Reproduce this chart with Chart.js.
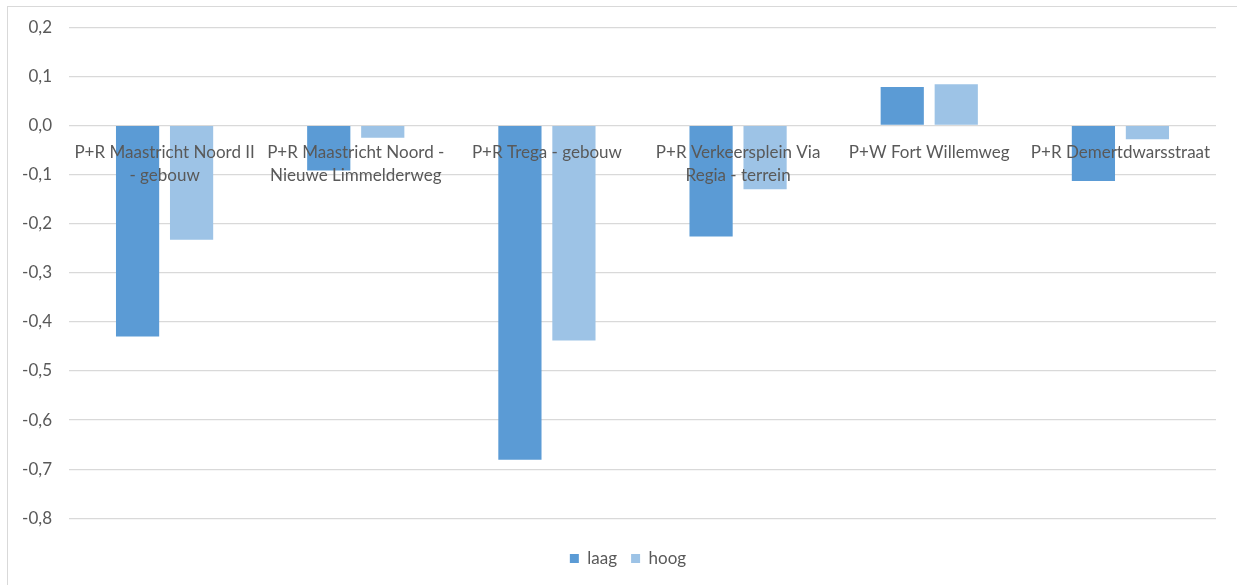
<!DOCTYPE html>
<html>
<head>
<meta charset="utf-8">
<script src="https://cdn.jsdelivr.net/npm/chart.js@4/dist/chart.umd.min.js"></script>
<style>
  html, body { margin: 0; padding: 0; background: #fff; overflow: hidden; width: 1237px; height: 585px; }
  #frame {
    position: absolute; left: 7px; top: 6px; width: 1400px; height: 700px;
    border: 1px solid #d9d9d9; box-sizing: border-box;
  }
  #chart { position: absolute; left: 0; top: 0; }
</style>
</head>
<body>
<div id="frame"></div>
<canvas id="chart" width="1237" height="585"></canvas>
<script>
const categories = [
  ['P+R Maastricht Noord II', '- gebouw'],
  ['P+R Maastricht Noord -', 'Nieuwe Limmelderweg'],
  'P+R Trega - gebouw',
  ['P+R Verkeersplein Via', 'Regia - terrein'],
  'P+W Fort Willemweg',
  'P+R Demertdwarsstraat',
];
const laag = [-0.43, -0.092, -0.681, -0.226, 0.078, -0.113];
const hoog = [-0.233, -0.025, -0.438, -0.13, 0.084, -0.028];

const TEXT = '#595959';
const GRID = '#d9d9d9';
const FONT = 'Lato, "Liberation Sans", sans-serif';

// format ticks the Dutch way: 0,1 / -0,2
const fmt = (v) => {
  const r = Math.round(v * 10) / 10;
  return (r === 0 ? 0 : r).toFixed(1).replace('.', ',');
};

// legend in the original sits a little right of the canvas centre
const legendShift = {
  id: 'legendShift',
  afterLayout(chart) {
    chart.legend.left += 10;
    chart.legend.right += 10;
  },
};

new Chart(document.getElementById('chart'), {
  type: 'bar',
  data: {
    labels: categories,
    datasets: [
      {
        label: 'laag',
        data: laag,
        backgroundColor: '#5b9bd5',
        categoryPercentage: 0.565,
        barPercentage: 0.8,
      },
      {
        label: 'hoog',
        data: hoog,
        backgroundColor: '#9dc3e6',
        categoryPercentage: 0.565,
        barPercentage: 0.8,
      },
    ],
  },
  plugins: [legendShift],
  options: {
    responsive: false,
    animation: false,
    layout: { padding: { left: 20, right: 21, top: 27, bottom: 8 } },
    plugins: {
      legend: {
        position: 'bottom',
        title: { display: true, text: '', font: { size: 1 }, padding: { top: 16.5, bottom: 0 } },
        labels: {
          color: TEXT,
          font: { family: FONT, size: 17 },
          boxWidth: 9,
          boxHeight: 9,
          padding: 14,
        },
      },
      tooltip: { enabled: false },
    },
    scales: {
      x: {
        position: { y: 0 },
        grid: { display: false, drawTicks: true, tickLength: 16 },
        border: { display: false },
        ticks: {
          z: 1,
          color: TEXT,
          font: { family: FONT, size: 17, lineHeight: 1.35 },
          maxRotation: 0,
          autoSkip: false,
          padding: 0,
        },
      },
      y: {
        min: -0.8,
        max: 0.2,
        afterFit: (scale) => { scale.width = 49; },
        grid: { color: GRID, lineWidth: 1.3, drawTicks: false },
        border: { display: false },
        ticks: {
          stepSize: 0.1,
          color: TEXT,
          font: { family: FONT, size: 17 },
          padding: 17,
          callback: (v) => fmt(v),
        },
      },
    },
  },
});
</script>
</body>
</html>
